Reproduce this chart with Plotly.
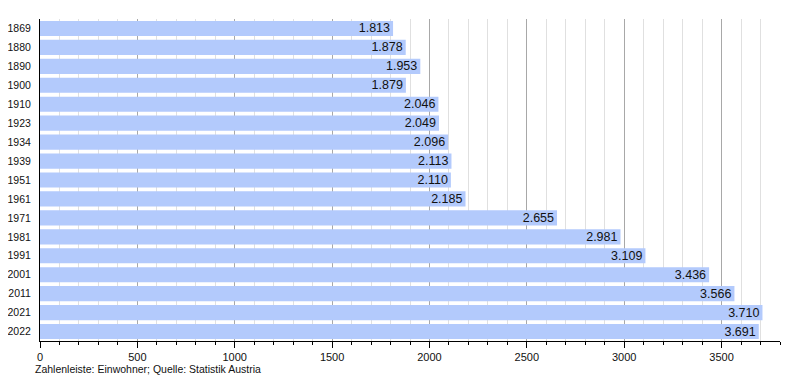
import plotly.graph_objects as go

years = ["1869", "1880", "1890", "1900", "1910", "1923", "1934", "1939", "1951",
         "1961", "1971", "1981", "1991", "2001", "2011", "2021", "2022"]
population = [1813, 1878, 1953, 1879, 2046, 2049, 2096, 2113, 2110,
              2185, 2655, 2981, 3109, 3436, 3566, 3710, 3691]

fig = go.Figure(go.Bar(
    x=population, y=years, orientation="h",
    marker=dict(color="#b3cafc", line=dict(width=0)),
    texttemplate="%{x:,d}", textposition="inside", insidetextanchor="end",
    textfont=dict(color="#111111", size=12.5, family="Liberation Sans, Arial, sans-serif"),
    hoverinfo="skip",
))

# page body has an 8px default margin, so the figure is sized/offset to compensate
fig.update_layout(
    width=792, height=372,
    margin=dict(l=32, r=20, t=11, b=39),
    plot_bgcolor="white", paper_bgcolor="white",
    separators=",.",
    bargap=0.2,
    showlegend=False,
    uniformtext=dict(minsize=12, mode="show"),
    font=dict(family="Liberation Sans, Arial, sans-serif", color="#111111", size=11),
    xaxis=dict(
        range=[0, 3800], dtick=500, tick0=0, automargin=False,
        showgrid=True, gridcolor="#a8a8a8", gridwidth=1,
        ticks="outside", ticklen=6, tickcolor="black",
        showline=True, linecolor="black", linewidth=1,
        zeroline=False,
        tickfont=dict(size=11),
        minor=dict(dtick=100, showgrid=True, gridcolor="#e0e0e0", ticks="outside",
                   ticklen=3, tickcolor="black"),
    ),
    yaxis=dict(
        type="category", autorange="reversed", automargin=False,
        showline=True, linecolor="black", linewidth=1,
        ticks="", showgrid=False, tickfont=dict(size=10.5),
        ticklabelstandoff=6,
    ),
    annotations=[dict(
        text="Zahlenleiste: Einwohner; Quelle: Statistik Austria",
        xref="paper", yref="paper", x=-0.009, y=-0.087, xanchor="left", yanchor="middle",
        showarrow=False, font=dict(size=10.5, color="#111111"),
    )],
)

fig.write_html("out.html")
